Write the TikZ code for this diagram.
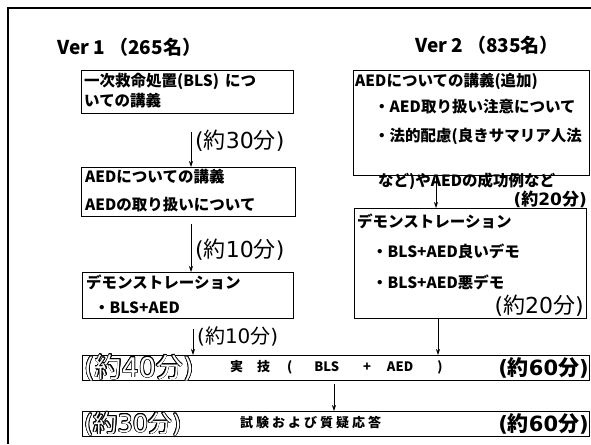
\documentclass[tikz,border=0pt]{standalone}
\usepackage{fontspec}
\setmainfont{Noto Sans CJK JP}
\newfontfamily\lat{DejaVu Sans}
\usepackage{contour}
\contourlength{0.7pt}
\usetikzlibrary{arrows.meta}
\tikzset{
  box/.style={draw, line width=0.8pt, anchor=north west, inner sep=0pt},
  bt/.style={anchor=west, inner sep=0pt, font=\bfseries\fontsize{15.5}{15.5}\selectfont},
  tm/.style={anchor=west, inner sep=0pt, font=\fontsize{22}{22}\selectfont},
  tmb/.style={anchor=east, inner sep=0pt, font=\bfseries\fontsize{21}{21}\selectfont},
  ol/.style={anchor=west, inner sep=0pt, font=\fontsize{27}{27}\selectfont},
  ver/.style={anchor=west, inner sep=0pt, font=\bfseries\fontsize{19}{19}\selectfont},
  mid/.style={anchor=west, inner sep=0pt, font=\bfseries\fontsize{13}{13}\selectfont},
  arr/.style={-{Stealth[length=6pt,width=4pt]}, line width=0.7pt},
}
\newcommand{\mins}[1]{{\lat(}約{\lat#1}分{\lat)}}
\newcommand{\outl}[1]{{\color{white}\contour{black}{#1}}}
\begin{document}
\begin{tikzpicture}[x=1pt,y=-1pt]
\useasboundingbox (0,0) rectangle (591,444);
% frame
\draw[line width=1.8pt] (8,444) -- (8,8);
\draw[line width=1.2pt] (7.1,8) -- (591,8);
% left column
\node[ver] (v1) at (57,47) {Ver 1 （265名）};
\node[box, minimum width=212pt, minimum height=43pt] (b1) at (81,70) {};
\node[bt] (t11) at (84,81) {一次救命処置(BLS)\hspace{6pt}につ};
\node[bt] (t12) at (84,101) {いての講義};
\node[box, minimum width=214pt, minimum height=49pt] (b2) at (81,167) {};
\node[bt] (t21) at (85,177) {AEDについての講義};
\node[bt] (t22) at (85,205) {AEDの取り扱いについて};
\node[box, minimum width=211pt, minimum height=46pt] (b3) at (82,272) {};
\node[bt] (t31) at (86,282) {デモンストレーション};
\node[bt] (t32) at (94,308) {・BLS+AED};
\node[tm] (l1) at (195,141) {\mins{30}};
\node[tm] (l2) at (195,250) {\mins{10}};
\node[tm, font=\fontsize{20}{20}\selectfont] (l3) at (197,336) {\mins{10}};
% right column
\node[ver] (v2) at (415,45) {Ver 2\hspace{4pt}（835名）};
\node[box, minimum width=236pt, minimum height=105pt] (b4) at (353,70) {};
\node[bt] (t41) at (355,81) {AEDについての講義(追加)};
\node[bt] (t42) at (374,107) {・AED取り扱い注意について};
\node[bt] (t43) at (374,136) {・法的配慮(良きサマリア人法};
\node[bt] (t44) at (378,181) {など)やAEDの成功例など};
\node[anchor=east, inner sep=0pt, font=\bfseries\fontsize{17}{17}\selectfont] (l4) at (587,199) {\mins{20}};
\node[box, minimum width=232pt, minimum height=110pt] (b5) at (354,208) {};
\node[bt] (t51) at (357,221) {デモンストレーション};
\node[bt] (t52) at (372,251) {・BLS+AED良いデモ};
\node[bt] (t53) at (372,282) {・BLS+AED悪デモ};
\node[tm, anchor=east] (l5) at (584,306) {\mins{20}};
% bars
\node[box, minimum width=507pt, minimum height=25pt] (bar1) at (82,355) {};
\node[ol] (o1) at (84,368) {\outl{\mins{40}}};
\node[mid] (m1) at (230,367) {実\hspace{14pt}技\hspace{17pt}(\hspace{22pt}BLS\hspace{24pt}+\hspace{16pt}AED\hspace{24pt})};
\node[tmb] (r1) at (589,368) {\mins{60}};
\node[box, minimum width=507pt, minimum height=25pt] (bar2) at (82,411) {};
\node[ol, font=\fontsize{24}{24}\selectfont] (o2) at (84,424) {\outl{\mins{30}}};
\node[mid] (m2) at (240,423) {試\hspace{3pt}験\hspace{3pt}お\hspace{3pt}よ\hspace{3pt}び\hspace{3pt}質\hspace{3pt}疑\hspace{3pt}応\hspace{3pt}答};
\node[tmb] (r2) at (589,424) {\mins{60}};
% connectors
\coordinate (xa1) at (191,0);
\coordinate (xa3) at (193,0);
\coordinate (xa5) at (436,0);
\coordinate (xa6) at (438,0);
\coordinate (xa7) at (334,0);
\draw[arr, shorten <=18pt] (b1.south -| xa1) -- (b2.north -| xa1);
\draw[arr, shorten <=7pt] (b2.south -| xa1) -- (b3.north -| xa1);
\draw[arr, shorten <=10pt] (b3.south -| xa3) -- (bar1.north -| xa3);
\draw[arr] (b4.south -| xa5) -- (b5.north -| xa5);
\draw[arr] (b5.south -| xa6) -- (bar1.north -| xa6);
\draw[arr, shorten <=3pt] (bar1.south -| xa7) -- (bar2.north -| xa7);
\end{tikzpicture}
\end{document}
